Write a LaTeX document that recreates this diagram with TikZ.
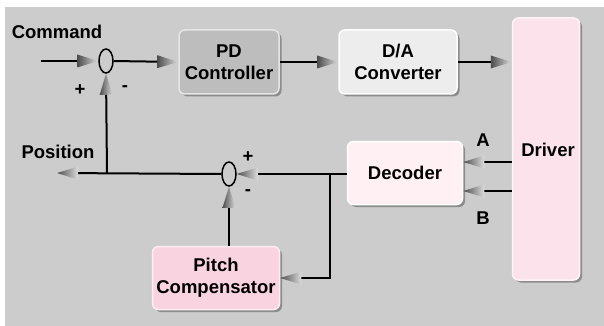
\documentclass[tikz,border=0pt]{standalone}
\usepackage{fontspec}
\setmainfont{Liberation Sans}
\usetikzlibrary{positioning, shapes.geometric, shadows, decorations.markings}
\definecolor{bggray}{HTML}{CCCCCC}
\definecolor{pdgray}{HTML}{BDBDBD}
\definecolor{dagray}{HTML}{EDEDED}
\definecolor{drvpink}{HTML}{FCE3EB}
\definecolor{decpink}{HTML}{FFF0F3}
\definecolor{pcpink}{HTML}{F9D3DF}

\begin{document}
\begin{tikzpicture}[x=1pt, y=-1pt,
		every node/.style={font=\fontsize{18.5}{22}\selectfont\bfseries},
		blockbox/.style={rectangle, rounded corners=6pt, align=center, inner sep=0pt,
			line width=1.5pt, drop shadow={fill=black!45, shadow xshift=2.5pt, shadow yshift=-2.5pt, opacity=1}},
		sumnode/.style={ellipse, draw, line width=1.5pt, minimum width=14pt, minimum height=24pt, inner sep=0pt},
		wire/.style={line width=2pt},
		sig/.style={wire, shorten >=20pt, postaction={decorate},
			decoration={markings, mark=at position 1 with {
				\shade[left color=black!70, right color=bggray!70!white] (-21pt,-6.5pt) -- (0pt,0pt) -- (-21pt,6.5pt) -- cycle;}}}]
		\useasboundingbox (0,0) rectangle (604,326);
		\fill[bggray] (5,7) rectangle (604,326);
		% blocks
		\node[blockbox, fill=pdgray, draw=pdgray!40!white, minimum width=100pt, minimum height=64pt] (pd) at (229,62) {PD\\Controller};
		\node[blockbox, fill=dagray, draw=white, minimum width=118pt, minimum height=64pt] (da) at (398,62) {D/A\\Converter};
		\node[blockbox, fill=drvpink, draw=drvpink!40!white, minimum width=67pt, minimum height=262pt] (drv) at (546,149) {};
		\node at (548,150) (drvtext) {Driver};
		\node[blockbox, fill=decpink, draw=white, minimum width=115pt, minimum height=63pt] (dec) at (405,173) {Decoder};
		\node[blockbox, fill=pcpink, draw=pcpink!40!white, minimum width=127pt, minimum height=63pt] (pc) at (216,278) {Pitch\\Compensator};
		% summing points
		\node[sumnode] (sum1) at (106,61) {};
		\node[sumnode] (sum2) at (229,174) {};
		% labels
		\node (cmd) at (57,32) {Command};
		\node (pos) at (58,152) {Position};
		\node (plus1) at (80,90) {+};
		\node (minus1) at (125,89) {-};
		\node (plus2) at (248,157) {+};
		\node (minus2) at (248,193) {-};
		\node (lblA) at (483,140) {A};
		\node (lblB) at (483,218) {B};
		\coordinate (cmdin) at (41,61);
		\coordinate (posout) at (57,173);
		\coordinate (tap) at (107,173);
		\coordinate (fork) at (330,173);
		\coordinate (chA) at (0,162);
		\coordinate (chB) at (0,191);
		% forward path
		\draw[sig] (cmdin) -- (sum1.west);
		\draw[sig] (sum1.east) -- (pd.west);
		\draw[sig] (pd.east) -- (da.west);
		\draw[sig] (da.east) -- (da.east -| drv.west);
		% encoder channels
		\draw[sig] (drv.west |- chA) -- (dec.east |- chA);
		\draw[sig] (drv.west |- chB) -- (dec.east |- chB);
		% feedback
		\draw[sig] (dec.west |- sum2) -- (sum2.east);
		\draw[sig] (sum2.west) -- (posout);
		\draw[sig] (tap) -- (sum1.south);
		\draw[sig] (fork) |- (pc.east);
		\draw[sig] (sum2.south |- pc.north) -- (sum2.south);
	\end{tikzpicture}
\end{document}
